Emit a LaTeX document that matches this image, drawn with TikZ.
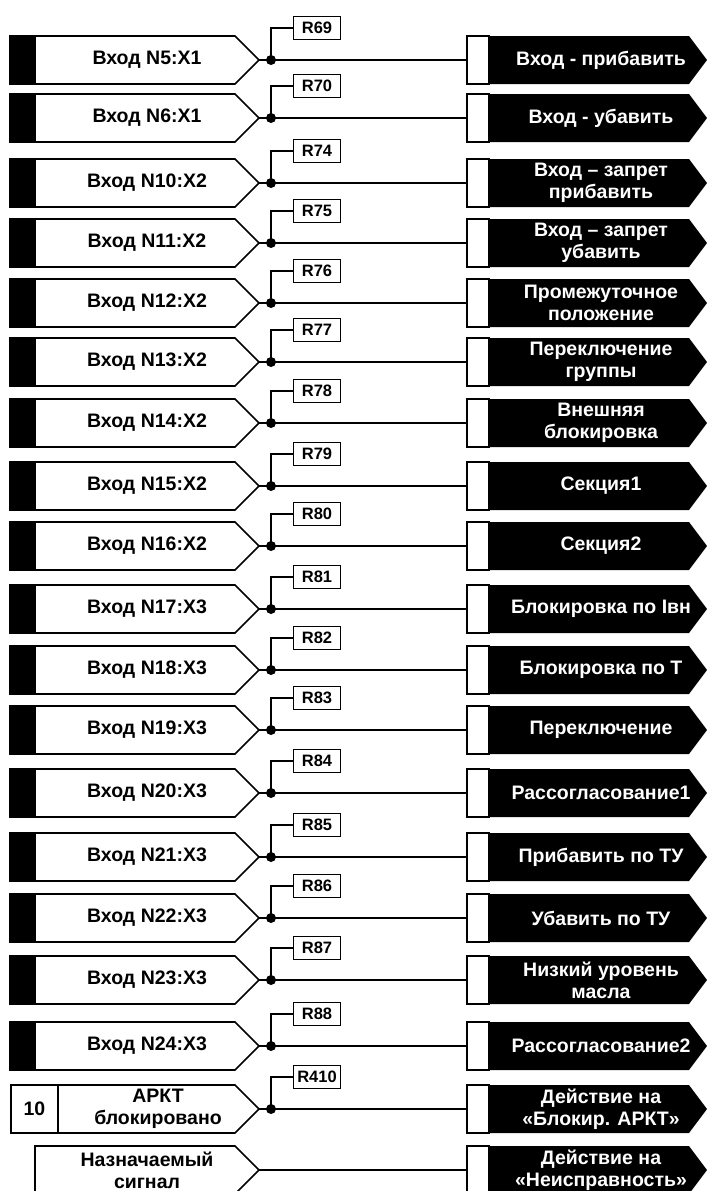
\documentclass[tikz,border=0pt]{standalone}
\usepackage{fontspec}
\setmainfont{Liberation Sans}
\tikzset{
  wire/.style={line width=1.3pt},
  boxline/.style={line width=1.6pt},
  intab/.style={draw, fill=black, line width=1.6pt, outer sep=0pt, inner sep=0pt,
    minimum width=25pt, minimum height=48pt},
  outtab/.style={draw, fill=white, line width=1.6pt, outer sep=0pt, inner sep=0pt,
    minimum width=22pt, minimum height=48pt},
  sig/.style={font=\bfseries\fontsize{19.5}{22}\selectfont, align=center, inner sep=0pt},
  outsig/.style={sig, text=white},
  res/.style={draw, fill=white, line width=1.3pt, inner sep=0pt,
    font=\bfseries\fontsize{16.5}{17}\selectfont, minimum width=47pt, minimum height=23pt},
  jdot/.style={circle, fill=black, inner sep=0pt, minimum size=10pt}
}
\begin{document}
\begin{tikzpicture}[x=1pt,y=-1pt]
\useasboundingbox (0,0) rectangle (709,1191);
% outputs
\foreach \y/\outp [count=\k] in {60/{Вход - прибавить}, 118/{Вход - убавить},
    183/{Вход – запрет\\прибавить}, 243/{Вход – запрет\\убавить},
    303/{Промежуточное\\положение}, 362/{Переключение\\группы},
    423/{Внешняя\\блокировка}, 486/{Секция1}, 546/{Секция2},
    609/{Блокировка по Iвн}, 670/{Блокировка по Т}, 730/{Переключение},
    793/{Рассогласование1}, 857/{Прибавить по ТУ}, 918/{Убавить по ТУ},
    980/{Низкий уровень\\масла}, 1046/{Рассогласование2},
    1109/{Действие на\\«Блокир. АРКТ»}, 1170/{Действие на\\«Неисправность»}}{
  \node[outtab] (tout\k) at (478,\y) {};
  \fill (tout\k.north east) -- (689,\y-24) -- (707,\y) -- (689,\y+24) -- (tout\k.south east) -- cycle;
  \node[outsig] (out\k) at (601,\y) {\outp};
}
% inputs
\foreach \y/\inp/\r [count=\k] in {60/{Вход N5:X1}/R69, 118/{Вход N6:X1}/R70,
    183/{Вход N10:X2}/R74, 243/{Вход N11:X2}/R75, 303/{Вход N12:X2}/R76,
    362/{Вход N13:X2}/R77, 423/{Вход N14:X2}/R78, 486/{Вход N15:X2}/R79,
    546/{Вход N16:X2}/R80, 609/{Вход N17:X3}/R81, 670/{Вход N18:X3}/R82,
    730/{Вход N19:X3}/R83, 793/{Вход N20:X3}/R84, 857/{Вход N21:X3}/R85,
    918/{Вход N22:X3}/R86, 980/{Вход N23:X3}/R87, 1046/{Вход N24:X3}/R88}{
  \node[intab] (tin\k) at (22.5,\y) {};
  \draw[boxline] (tin\k.north east) -- (235,\y-24) -- (259,\y) -- (235,\y+24) -- (tin\k.south east);
  \node[sig] (in\k) at (147,\y) {\inp};
  \coordinate (tip\k) at (259,\y);
  \node[jdot] (j\k) at (271,\y) {};
  \node[res] (r\k) at (317,\y-32) {\r};
  \draw[wire] (tip\k) -- (tout\k.west);
  \draw[wire] (j\k.center) |- (r\k.west);
}
% АРКТ
\node[draw, line width=1.6pt, outer sep=0pt, minimum width=47pt, minimum height=48pt, sig] (num) at (34.5,1109) {10};
\draw[boxline] (num.north east) -- (235,1085) -- (259,1109) -- (235,1133) -- (num.south east);
\node[sig] (in18) at (158,1109) {АРКТ\\блокировано};
\coordinate (tip18) at (259,1109);
\node[jdot] (j18) at (271,1109) {};
\node[res] (r18) at (317,1077) {R410};
\draw[wire] (tip18) -- (tout18.west);
\draw[wire] (j18.center) |- (r18.west);
% назначаемый
\draw[boxline] (35,1146) -- (235,1146) -- (259,1170) -- (235,1194) -- (35,1194) -- cycle;
\node[sig] (in19) at (147,1170) {Назначаемый\\сигнал};
\coordinate (tip19) at (259,1170);
\draw[wire] (tip19) -- (tout19.west);
\end{tikzpicture}
\end{document}
